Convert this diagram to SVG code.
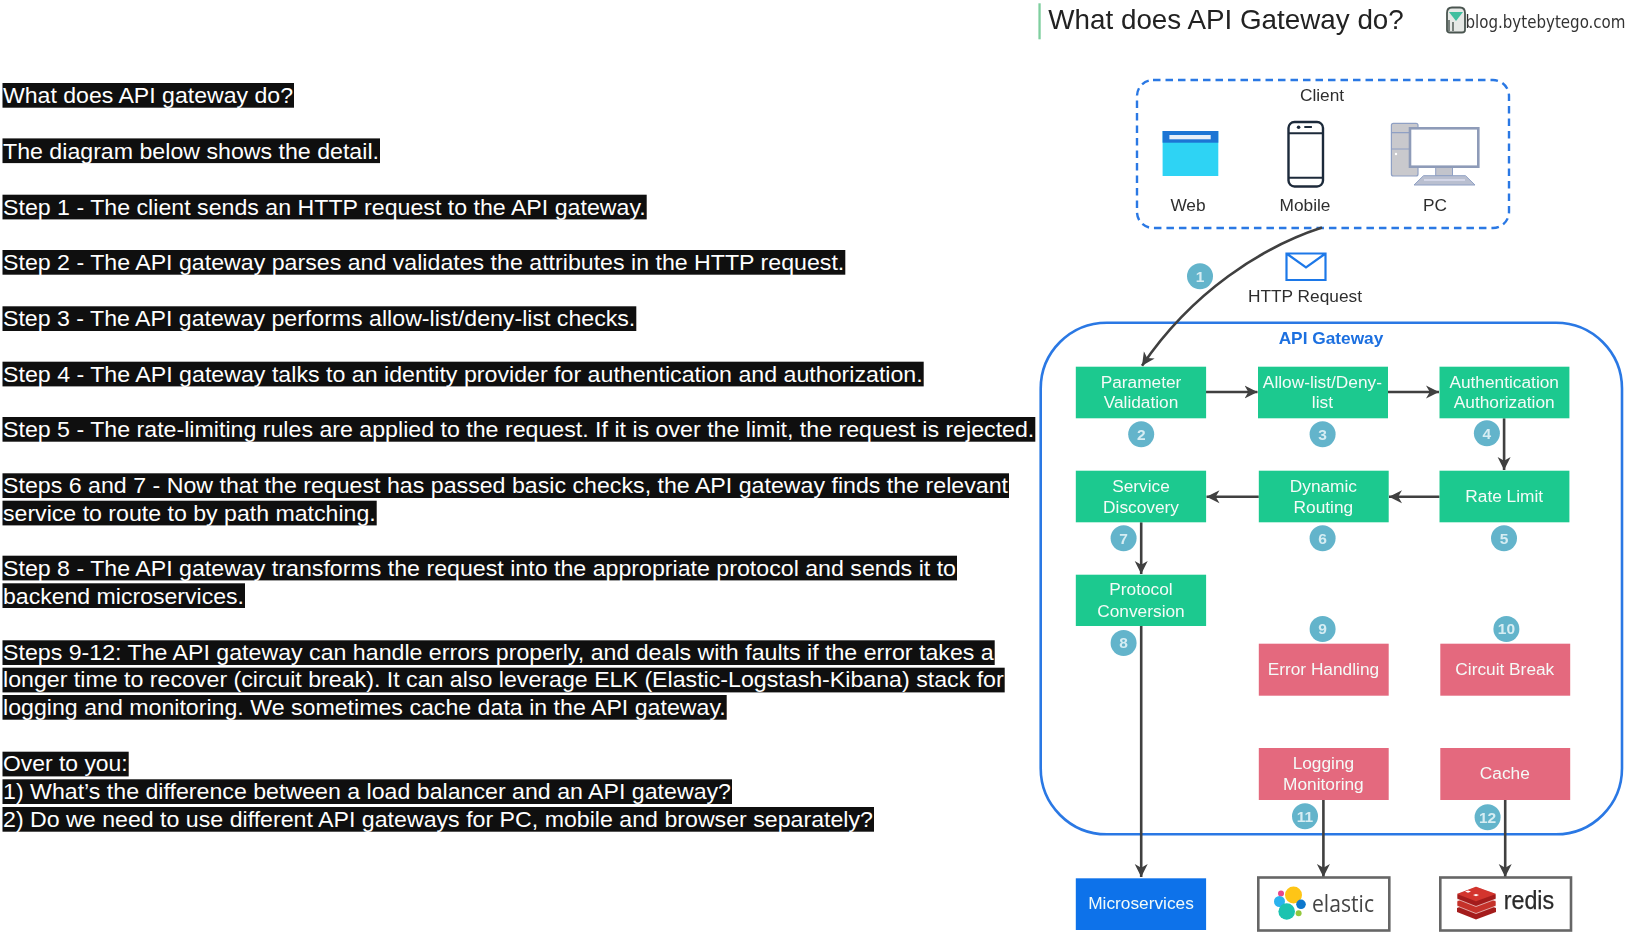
<svg xmlns="http://www.w3.org/2000/svg" width="1629" height="936" viewBox="0 0 1629 936">
<style>
text{font-family:"Liberation Sans",Arial,sans-serif}
.hl{fill:#0f0f0f}
.a{font-size:22px;fill:#fff}
.l{font-size:17.3px;fill:#2e2e2e;text-anchor:middle}
.w{font-size:17.3px;fill:#f4fbf8;text-anchor:middle}
.g{fill:#1fc98f}
.p{fill:#e4697e}
.b{fill:#63b4cb}
.n{font-size:15.5px;font-weight:bold;fill:#d6edf3;text-anchor:middle}
.c{fill:none;stroke:#3f3f3f;stroke-width:2.6;marker-end:url(#ah)}
.m{fill:#fff;stroke:#666;stroke-width:2.6}
</style>
<defs>
<marker id="ah" markerUnits="userSpaceOnUse" markerWidth="15" markerHeight="15" refX="13" refY="7" orient="auto"><path d="M0,0.5 L13,7 L0,13.5 L3.8,7 Z" fill="#3f3f3f"/></marker>
<filter id="soft" filterUnits="userSpaceOnUse" x="1030" y="0" width="599" height="936"><feGaussianBlur stdDeviation="0.55"/></filter>
</defs>
<rect width="1629" height="936" fill="#fff"/>
<g id="article">
<rect class="hl" x="2.5" y="83" width="291.5" height="24.7"/><text class="a" x="3" y="102.8" textLength="290" lengthAdjust="spacingAndGlyphs">What does API gateway do?</text>
<rect class="hl" x="2.5" y="138.4" width="377.5" height="24.7"/><text class="a" x="3" y="158.7" textLength="376" lengthAdjust="spacingAndGlyphs">The diagram below shows the detail.</text>
<rect class="hl" x="2.5" y="194.7" width="644.2" height="24.7"/><text class="a" x="3" y="214.6" textLength="642.7" lengthAdjust="spacingAndGlyphs">Step 1 - The client sends an HTTP request to the API gateway.</text>
<rect class="hl" x="2.5" y="250" width="842.8" height="24.7"/><text class="a" x="3" y="269.7" textLength="841.3" lengthAdjust="spacingAndGlyphs">Step 2 - The API gateway parses and validates the attributes in the HTTP request.</text>
<rect class="hl" x="2.5" y="306.3" width="633.8" height="24.7"/><text class="a" x="3" y="326" textLength="632.3" lengthAdjust="spacingAndGlyphs">Step 3 - The API gateway performs allow-list/deny-list checks.</text>
<rect class="hl" x="2.5" y="361.7" width="921.2" height="24.7"/><text class="a" x="3" y="381.7" textLength="919.7" lengthAdjust="spacingAndGlyphs">Step 4 - The API gateway talks to an identity provider for authentication and authorization.</text>
<rect class="hl" x="2.5" y="417" width="1032.8" height="24.7"/><text class="a" x="3" y="436.8" textLength="1031.3" lengthAdjust="spacingAndGlyphs">Step 5 - The rate-limiting rules are applied to the request. If it is over the limit, the request is rejected.</text>
<rect class="hl" x="2.5" y="473.3" width="1006.5" height="24.7"/><text class="a" x="3" y="493" textLength="1005" lengthAdjust="spacingAndGlyphs">Steps 6 and 7 - Now that the request has passed basic checks, the API gateway finds the relevant</text>
<rect class="hl" x="2.5" y="500.7" width="374.2" height="24.7"/><text class="a" x="3" y="520.8" textLength="372.7" lengthAdjust="spacingAndGlyphs">service to route to by path matching.</text>
<rect class="hl" x="2.5" y="555.7" width="954.5" height="24.7"/><text class="a" x="3" y="575.8" textLength="953" lengthAdjust="spacingAndGlyphs">Step 8 - The API gateway transforms the request into the appropriate protocol and sends it to</text>
<rect class="hl" x="2.5" y="583.3" width="242.5" height="24.7"/><text class="a" x="3" y="603.6" textLength="241" lengthAdjust="spacingAndGlyphs">backend microservices.</text>
<rect class="hl" x="2.5" y="640.3" width="992.2" height="24.7"/><text class="a" x="3" y="659.9" textLength="990.7" lengthAdjust="spacingAndGlyphs">Steps 9-12: The API gateway can handle errors properly, and deals with faults if the error takes a</text>
<rect class="hl" x="2.5" y="667.7" width="1002.2" height="24.7"/><text class="a" x="3" y="687.2" textLength="1000.7" lengthAdjust="spacingAndGlyphs">longer time to recover (circuit break). It can also leverage ELK (Elastic-Logstash-Kibana) stack for</text>
<rect class="hl" x="2.5" y="695" width="724.2" height="24.7"/><text class="a" x="3" y="714.6" textLength="722.7" lengthAdjust="spacingAndGlyphs">logging and monitoring. We sometimes cache data in the API gateway.</text>
<rect class="hl" x="2.5" y="751.7" width="126.2" height="24.7"/><text class="a" x="3" y="771.3" textLength="124.7" lengthAdjust="spacingAndGlyphs">Over to you:</text>
<rect class="hl" x="2.5" y="779.3" width="729.5" height="24.7"/><text class="a" x="3" y="798.9" textLength="728" lengthAdjust="spacingAndGlyphs">1) What’s the difference between a load balancer and an API gateway?</text>
<rect class="hl" x="2.5" y="807" width="871.5" height="24.7"/><text class="a" x="3" y="826.6" textLength="870" lengthAdjust="spacingAndGlyphs">2) Do we need to use different API gateways for PC, mobile and browser separately?</text>
</g>
<g id="diagram" filter="url(#soft)">
<g id="title">
<rect x="1038.4" y="3.3" width="2.3" height="36" fill="#7fcf9f"/>
<text x="1048.3" y="29" font-size="27.3" fill="#222" textLength="355.5" lengthAdjust="spacingAndGlyphs">What does API Gateway do?</text>
</g>
<g id="brand">
<path d="M1447,13 Q1447,7.5 1452,7.5 H1460 Q1465,7.5 1465,13 V30 Q1465,32.5 1462,32.5 H1450 Q1447,32.5 1447,30 Z" fill="#e6e9e6" stroke="#4a5550" stroke-width="1.8"/>
<path d="M1449,12 L1456,21 L1463,12 Z" fill="#3fbf9f"/>
<path d="M1449,20 V31 M1453,22 V31" stroke="#4a5550" stroke-width="1.4" fill="none"/>
<text x="1465.5" y="27.5" font-size="17" fill="#333" style="font-family:'DejaVu Sans',sans-serif;font-stretch:condensed" textLength="160" lengthAdjust="spacingAndGlyphs">blog.bytebytego.com</text>
</g>
<g id="client">
<rect x="1137" y="80" width="372" height="148" rx="16" fill="none" stroke="#2a78e4" stroke-width="2.4" stroke-dasharray="7.5 5"/>
<text class="l" x="1322" y="101">Client</text>
</g>
<g id="web">
<rect x="1162.6" y="131" width="55.7" height="45" fill="#2ed3f4"/>
<rect x="1162.6" y="131" width="55.7" height="11.7" fill="#1c74d4"/>
<rect x="1169.4" y="135" width="41.3" height="4.3" fill="#e6eef8"/>
<text class="l" x="1188" y="211.4">Web</text>
</g>
<g id="mobile">
<rect x="1288.5" y="122" width="34.5" height="64.5" rx="6" fill="#fff" stroke="#1f2a3a" stroke-width="2.4"/>
<path d="M1288.5,133.3 H1323 M1288.5,177.7 H1323 M1304.3,127 H1311.9" stroke="#1f2a3a" stroke-width="1.9" fill="none"/>
<circle cx="1298.6" cy="127.3" r="1.8" fill="#1f2a3a"/>
<text class="l" x="1305" y="211.4">Mobile</text>
</g>
<g id="pc">
<rect x="1391.4" y="123.3" width="26.6" height="52.7" rx="2" fill="#c9c9cd" stroke="#8fa0c4" stroke-width="1.2"/>
<path d="M1391.4,132.7 H1418 M1391.4,149 H1418" stroke="#8fa0c4" stroke-width="1.2" fill="none"/>
<circle cx="1396" cy="154" r="1.2" fill="#fff"/>
<rect x="1435.7" y="166.7" width="16.8" height="9" fill="#c2c4cc" stroke="#8fa0c4"/>
<rect x="1410" y="128.3" width="68.3" height="38.4" fill="#fff" stroke="#8e9bb8" stroke-width="2.6"/>
<path d="M1423.5,175.7 H1465.5 L1475,185 H1414 Z" fill="#b9bfd0" stroke="#8fa0c4"/>
<path d="M1424,180 H1465" stroke="#eef" stroke-width="1"/>
<text class="l" x="1435" y="211.4">PC</text>
</g>
<g id="http-request">
<path d="M1286.5,253.5 H1325.5 V280 H1286.5 Z M1286.5,253.5 L1306,267.3 L1325.5,253.5" fill="none" stroke="#1f78e8" stroke-width="2.2"/>
<text class="l" x="1305" y="301.5">HTTP Request</text>
</g>
<g id="api-gateway">
<rect x="1040.7" y="322.7" width="581.3" height="511.6" rx="66" fill="none" stroke="#2a78e4" stroke-width="2.6"/>
<text x="1331" y="343.8" font-size="17.3" font-weight="bold" fill="#1d70e0" text-anchor="middle">API Gateway</text>
</g>
<g id="connectors">
<path class="c" d="M1322,227.5 C1262,247 1192,292 1142,365.7"/>
<path class="c" d="M1206,392 H1257.5"/>
<path class="c" d="M1388,392 H1439"/>
<path class="c" d="M1504.1,418.3 V470"/>
<path class="c" d="M1439.5,496.7 H1389"/>
<path class="c" d="M1258.8,496.7 H1206.5"/>
<path class="c" d="M1141.2,522.3 V574"/>
<path class="c" d="M1141.2,626 V877"/>
<path class="c" d="M1323.4,800 V877"/>
<path class="c" d="M1505.2,800 V877"/>
</g>
<g id="parameter-validation"><rect class="g" x="1075.8" y="366.7" width="130.3" height="51.6"/><text class="w" x="1141" y="387.6">Parameter</text><text class="w" x="1141" y="408.3">Validation</text></g>
<g id="allow-deny-list"><rect class="g" x="1258" y="366.7" width="130" height="51.6"/><text class="w" x="1322.4" y="387.6">Allow-list/Deny-</text><text class="w" x="1322.4" y="408.3">list</text></g>
<g id="authentication"><rect class="g" x="1439.5" y="366.7" width="129.9" height="51.6"/><text class="w" x="1504.2" y="387.6">Authentication</text><text class="w" x="1504.2" y="408.3">Authorization</text></g>
<g id="service-discovery"><rect class="g" x="1075.8" y="470.7" width="130.3" height="51.6"/><text class="w" x="1141" y="491.6">Service</text><text class="w" x="1141" y="512.6">Discovery</text></g>
<g id="dynamic-routing"><rect class="g" x="1258.8" y="470.7" width="129.9" height="51.6"/><text class="w" x="1323.4" y="491.6">Dynamic</text><text class="w" x="1323.4" y="512.6">Routing</text></g>
<g id="rate-limit"><rect class="g" x="1439.5" y="470.7" width="129.9" height="51.6"/><text class="w" x="1504.2" y="502">Rate Limit</text></g>
<g id="protocol-conversion"><rect class="g" x="1075.8" y="574.7" width="130.3" height="51.3"/><text class="w" x="1141" y="595.4">Protocol</text><text class="w" x="1141" y="616.6">Conversion</text></g>
<g id="error-handling"><rect class="p" x="1258.8" y="643.7" width="129.9" height="52"/><text class="w" x="1323.4" y="675.3">Error Handling</text></g>
<g id="circuit-break"><rect class="p" x="1440.3" y="643.7" width="129.9" height="52"/><text class="w" x="1504.8" y="675.3">Circuit Break</text></g>
<g id="logging-monitoring"><rect class="p" x="1258.8" y="748" width="129.9" height="52"/><text class="w" x="1323.4" y="769.3">Logging</text><text class="w" x="1323.4" y="790">Monitoring</text></g>
<g id="cache"><rect class="p" x="1440.3" y="748" width="129.9" height="52"/><text class="w" x="1504.8" y="779.3">Cache</text></g>
<g id="microservices"><rect x="1075.8" y="878.3" width="130.3" height="51.7" fill="#0b72ea"/><text class="w" x="1141" y="909.3">Microservices</text></g>
<g id="elastic">
<rect class="m" x="1258.3" y="877.5" width="131" height="53"/>
<circle cx="1281" cy="893.5" r="3" fill="#e8478b"/><circle cx="1279.5" cy="901.5" r="5.5" fill="#2bb3ee"/><circle cx="1293.5" cy="895" r="8.5" fill="#fec514"/><circle cx="1286.7" cy="911.5" r="8.3" fill="#1bc3b0"/><circle cx="1301" cy="904.3" r="4.8" fill="#0a77cc"/><circle cx="1298.6" cy="913.3" r="3" fill="#93c83e"/>
<text x="1312" y="912" font-size="24" fill="#444" style="font-family:'Open Sans',sans-serif" textLength="62" lengthAdjust="spacingAndGlyphs">elastic</text>
</g>
<g id="redis">
<rect class="m" x="1440.3" y="877.5" width="130.7" height="53"/>
<path d="M1457,908 L1476,900 L1496,908 V912 L1476,919.5 L1457,912 Z" fill="#a41f1c"/>
<path d="M1457,901 L1476,893 L1496,901 V906 L1476,913.5 L1457,906 Z" fill="#c5302b" stroke="#fff" stroke-width=".6"/>
<path d="M1457,894 L1476,886.7 L1496,894 V899 L1476,906.5 L1457,899 Z" fill="#a41f1c" stroke="#fff" stroke-width=".6"/>
<path d="M1457,894 L1476,886.7 L1496,894 L1476,901.3 Z" fill="#d3362f"/>
<path d="M1468,890.5 l3,1 l-3,1.2 l-3,-1.2 Z M1476,894 l3,1 l-3,1.2 l-3,-1.2 Z" fill="#fff"/>
<text x="1503.7" y="909" font-size="25" fill="#2a2a2a" stroke="#2a2a2a" stroke-width=".25" textLength="50.5" lengthAdjust="spacingAndGlyphs">redis</text>
</g>
<g id="badges">
<circle class="b" cx="1200" cy="276.3" r="13"/><text class="n" x="1200" y="281.6">1</text>
<circle class="b" cx="1141.2" cy="434.3" r="13"/><text class="n" x="1141.2" y="439.6">2</text>
<circle class="b" cx="1322.6" cy="434.3" r="13"/><text class="n" x="1322.6" y="439.6">3</text>
<circle class="b" cx="1486.9" cy="433.3" r="13"/><text class="n" x="1486.9" y="438.6">4</text>
<circle class="b" cx="1504" cy="538.3" r="13"/><text class="n" x="1504" y="543.6">5</text>
<circle class="b" cx="1322.6" cy="538.3" r="13"/><text class="n" x="1322.6" y="543.6">6</text>
<circle class="b" cx="1123.6" cy="538.3" r="13"/><text class="n" x="1123.6" y="543.6">7</text>
<circle class="b" cx="1123.6" cy="643" r="13"/><text class="n" x="1123.6" y="648.3">8</text>
<circle class="b" cx="1322.6" cy="629" r="13"/><text class="n" x="1322.6" y="634.3">9</text>
<circle class="b" cx="1506.4" cy="629" r="13"/><text class="n" x="1506.4" y="634.3">10</text>
<circle class="b" cx="1305" cy="816.3" r="13"/><text class="n" x="1305" y="821.6">11</text>
<circle class="b" cx="1487.6" cy="817.3" r="13"/><text class="n" x="1487.6" y="822.6">12</text>
</g>
</g>
</svg>
